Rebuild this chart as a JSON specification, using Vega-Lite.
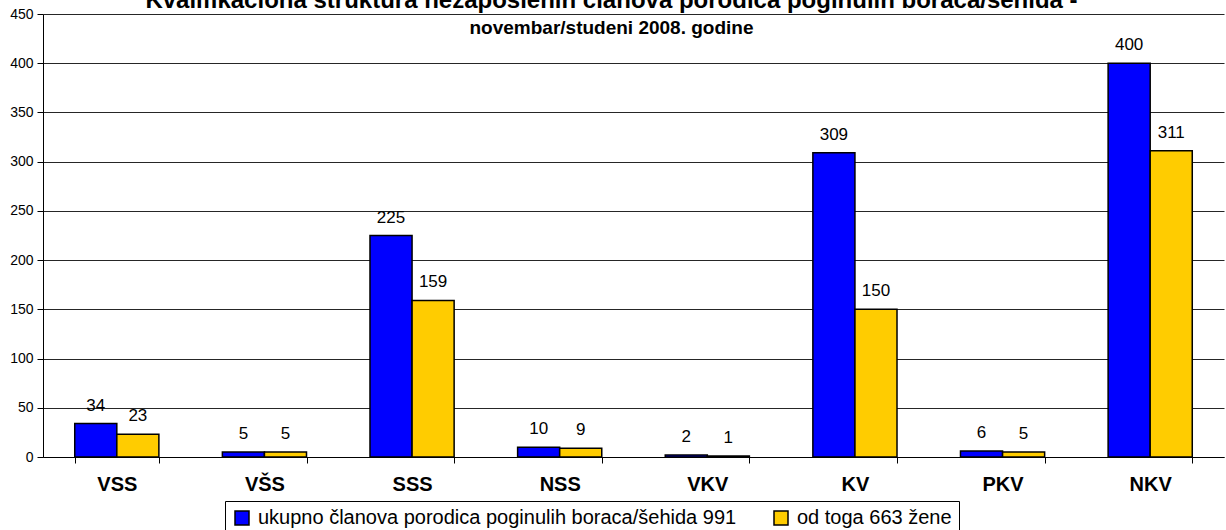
{
  "$schema": "https://vega.github.io/schema/vega-lite/v6.json",
  "width": 1181,
  "height": 443,
  "autosize": "none",
  "padding": {"left": 43, "top": 14, "right": 2, "bottom": 73},
  "background": "white",
  "config": {
    "view": {"stroke": null},
    "font": "Liberation Sans"
  },
  "title": {
    "text": "Kvalifikaciona struktura nezaposlenih članova porodica poginulih boraca/šehida  -",
    "subtitle": "novembar/studeni 2008. godine\u00a0\u00a0\u00a0\u00a0\u00a0\u00a0\u00a0\u00a0",
    "fontSize": 24,
    "fontWeight": "bold",
    "color": "black",
    "subtitleFontSize": 19,
    "subtitleFontWeight": "bold",
    "subtitleColor": "black",
    "subtitlePadding": 6,
    "anchor": "middle",
    "dx": -22,
    "dy": 35
  },
  "data": {
    "values": [
      {"cat": "VSS", "s": "ukupno članova porodica poginulih boraca/šehida 991", "v": 34},
      {"cat": "VSS", "s": "od toga 663 žene", "v": 23},
      {"cat": "VŠS", "s": "ukupno članova porodica poginulih boraca/šehida 991", "v": 5},
      {"cat": "VŠS", "s": "od toga 663 žene", "v": 5},
      {"cat": "SSS", "s": "ukupno članova porodica poginulih boraca/šehida 991", "v": 225},
      {"cat": "SSS", "s": "od toga 663 žene", "v": 159},
      {"cat": "NSS", "s": "ukupno članova porodica poginulih boraca/šehida 991", "v": 10},
      {"cat": "NSS", "s": "od toga 663 žene", "v": 9},
      {"cat": "VKV", "s": "ukupno članova porodica poginulih boraca/šehida 991", "v": 2},
      {"cat": "VKV", "s": "od toga 663 žene", "v": 1},
      {"cat": "KV", "s": "ukupno članova porodica poginulih boraca/šehida 991", "v": 309},
      {"cat": "KV", "s": "od toga 663 žene", "v": 150},
      {"cat": "PKV", "s": "ukupno članova porodica poginulih boraca/šehida 991", "v": 6},
      {"cat": "PKV", "s": "od toga 663 žene", "v": 5},
      {"cat": "NKV", "s": "ukupno članova porodica poginulih boraca/šehida 991", "v": 400},
      {"cat": "NKV", "s": "od toga 663 žene", "v": 311}
    ]
  },
  "encoding": {
    "x": {
      "field": "cat",
      "type": "nominal",
      "sort": null,
      "scale": {"paddingInner": 0.43, "paddingOuter": 0.215},
      "axis": {
        "title": null,
        "labelAngle": 0,
        "labelFontSize": 20,
        "labelFontWeight": "bold",
        "labelColor": "black",
        "labelPadding": 11,
        "tickBand": "extent",
        "tickSize": 6,
        "tickColor": "black",
        "domainColor": "black",
        "grid": false
      }
    },
    "xOffset": {
      "field": "s",
      "type": "nominal",
      "sort": ["ukupno članova porodica poginulih boraca/šehida 991", "od toga 663 žene"]
    },
    "y": {
      "field": "v",
      "type": "quantitative",
      "scale": {"domain": [0, 450], "nice": false},
      "axis": {
        "title": null,
        "values": [0, 50, 100, 150, 200, 250, 300, 350, 400, 450],
        "labelFontSize": 14,
        "labelColor": "black",
        "labelPadding": 4,
        "tickSize": 6,
        "tickColor": "black",
        "domainColor": "black",
        "gridColor": "black",
        "gridOpacity": 0.85,
        "gridWidth": 1
      }
    }
  },
  "layer": [
    {
      "mark": {"type": "bar", "stroke": "black", "strokeWidth": 1.5},
      "encoding": {
        "color": {
          "field": "s",
          "type": "nominal",
          "sort": ["ukupno članova porodica poginulih boraca/šehida 991", "od toga 663 žene"],
          "scale": {"range": ["#0000FF", "#FFCC00"]},
          "legend": {
            "title": null,
            "orient": "none",
            "legendX": 182,
            "legendY": 487,
            "direction": "horizontal",
            "columns": 2,
            "strokeColor": "black",
            "fillColor": "white",
            "padding": 7,
            "symbolType": "square",
            "symbolSize": 196,
            "symbolStrokeColor": "black",
            "symbolStrokeWidth": 1.5,
            "symbolOpacity": 1,
            "labelFontSize": 20,
            "labelColor": "black",
            "labelLimit": 700,
            "labelOffset": 6,
            "columnPadding": 34
          }
        }
      }
    },
    {
      "mark": {"type": "text", "baseline": "alphabetic", "dy": -13, "fontSize": 17, "color": "black"},
      "encoding": {"text": {"field": "v", "type": "quantitative"}}
    }
  ]
}
